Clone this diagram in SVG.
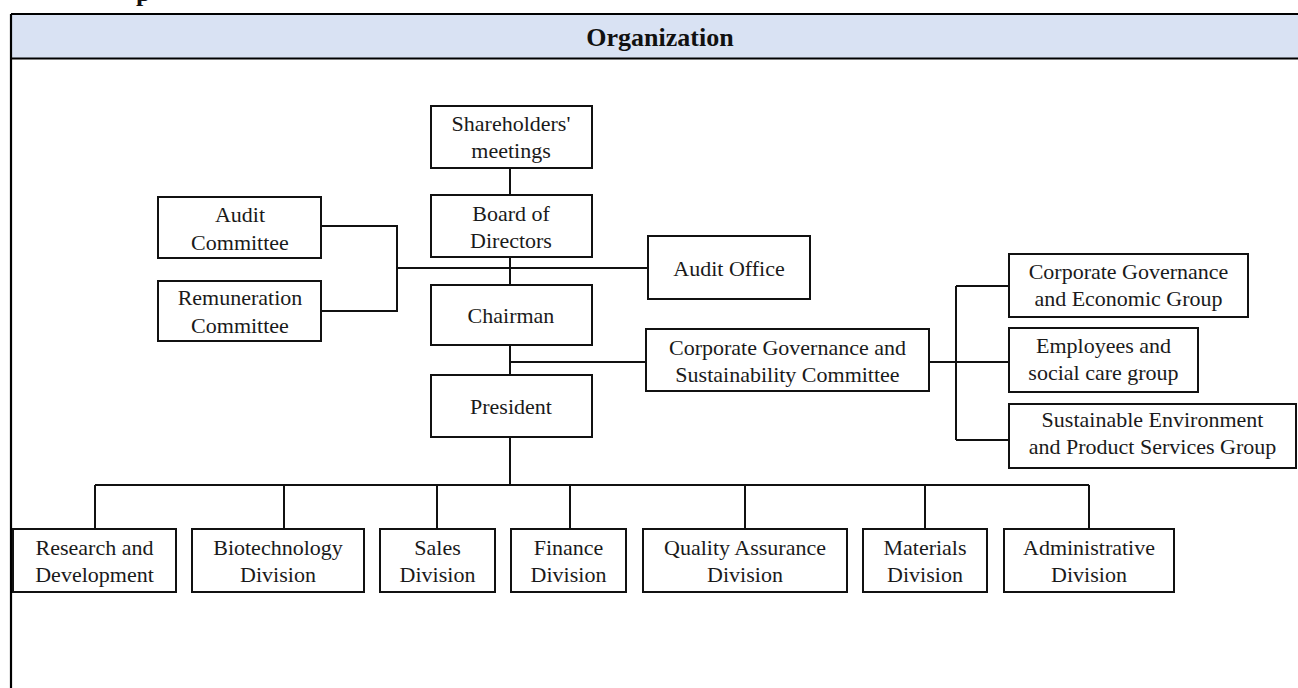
<svg xmlns="http://www.w3.org/2000/svg" width="1298" height="688" viewBox="0 0 1298 688">
  <style>
    .box { fill: #ffffff; stroke: #111111; stroke-width: 2; }
    .lbl { font-family: "Liberation Serif", "Times New Roman", serif; font-size: 22px; fill: #1a1a1a; text-anchor: middle; }
    .head { font-family: "Liberation Serif", "Times New Roman", serif; font-size: 26px; font-weight: bold; fill: #111111; text-anchor: middle; }
    .wire { fill: none; stroke: #111111; stroke-width: 2; }
    .frame { fill: none; stroke: #000000; stroke-width: 2.2; }
  </style>

  <rect width="1298" height="688" fill="#ffffff"/>

  <!-- clipped heading glyph above the table -->
  <text x="136" y="1" class="head" style="text-anchor:start">p</text>

  <!-- table frame and header row -->
  <g id="table">
    <rect x="11" y="14" width="1290" height="44.5" fill="#d9e2f3"/>
    <path class="frame" d="M11,14 H1298 M11,58.5 H1298 M11,14 V688"/>
    <text x="660" y="46" class="head">Organization</text>
  </g>

  <!-- connectors -->
  <g id="connectors" class="wire">
    <path d="M510,168 V195 M510,257 V285 M510,345 V375 M510,437 V485"/>
    <path d="M321,226 H397 V311 H321 M397,268 H648"/>
    <path d="M510,362 H646 M929,362 H956 M956,286 V440 M956,286 H1009 M956,362 H1009 M956,440 H1009"/>
    <path d="M95,485 H1089 M95,485 V529 M284,485 V529 M437,485 V529 M570,485 V529 M745,485 V529 M925,485 V529 M1089,485 V529"/>
  </g>

  <g id="shareholders">
    <rect class="box" x="431" y="106" width="161" height="62"/>
    <text class="lbl" x="511" y="131">Shareholders'</text>
    <text class="lbl" x="511" y="158">meetings</text>
  </g>
  <g id="board">
    <rect class="box" x="431" y="195" width="161" height="62"/>
    <text class="lbl" x="511" y="221">Board of</text>
    <text class="lbl" x="511" y="248">Directors</text>
  </g>
  <g id="chairman">
    <rect class="box" x="431" y="285" width="161" height="60"/>
    <text class="lbl" x="511" y="323">Chairman</text>
  </g>
  <g id="president">
    <rect class="box" x="431" y="375" width="161" height="62"/>
    <text class="lbl" x="511" y="414">President</text>
  </g>
  <g id="audit-committee">
    <rect class="box" x="158" y="197" width="163" height="61"/>
    <text class="lbl" x="240" y="222">Audit</text>
    <text class="lbl" x="240" y="250">Committee</text>
  </g>
  <g id="remuneration-committee">
    <rect class="box" x="158" y="281" width="163" height="60"/>
    <text class="lbl" x="240" y="305">Remuneration</text>
    <text class="lbl" x="240" y="333">Committee</text>
  </g>
  <g id="audit-office">
    <rect class="box" x="648" y="236" width="162" height="63"/>
    <text class="lbl" x="729" y="275.5">Audit Office</text>
  </g>
  <g id="cg-sustainability-committee">
    <rect class="box" x="646" y="329" width="283" height="62"/>
    <text class="lbl" x="787.5" y="355">Corporate Governance and</text>
    <text class="lbl" x="787.5" y="382">Sustainability Committee</text>
  </g>
  <g id="cg-economic-group">
    <rect class="box" x="1009" y="254" width="239" height="63"/>
    <text class="lbl" x="1128.5" y="279">Corporate Governance</text>
    <text class="lbl" x="1128.5" y="306">and Economic Group</text>
  </g>
  <g id="employees-group">
    <rect class="box" x="1009" y="328" width="189" height="64"/>
    <text class="lbl" x="1103.5" y="353">Employees and</text>
    <text class="lbl" x="1103.5" y="380">social care group</text>
  </g>
  <g id="environment-group">
    <rect class="box" x="1009" y="404" width="287" height="64"/>
    <text class="lbl" x="1152.5" y="427">Sustainable Environment</text>
    <text class="lbl" x="1152.5" y="453.5">and Product Services Group</text>
  </g>

  <g id="rnd">
    <rect class="box" x="13" y="529" width="163" height="63"/>
    <text class="lbl" x="94.5" y="555">Research and</text>
    <text class="lbl" x="94.5" y="582">Development</text>
  </g>
  <g id="biotech">
    <rect class="box" x="192" y="529" width="172" height="63"/>
    <text class="lbl" x="278" y="555">Biotechnology</text>
    <text class="lbl" x="278" y="582">Division</text>
  </g>
  <g id="sales">
    <rect class="box" x="380" y="529" width="115" height="63"/>
    <text class="lbl" x="437.5" y="555">Sales</text>
    <text class="lbl" x="437.5" y="582">Division</text>
  </g>
  <g id="finance">
    <rect class="box" x="511" y="529" width="115" height="63"/>
    <text class="lbl" x="568.5" y="555">Finance</text>
    <text class="lbl" x="568.5" y="582">Division</text>
  </g>
  <g id="quality">
    <rect class="box" x="643" y="529" width="204" height="63"/>
    <text class="lbl" x="745" y="555">Quality Assurance</text>
    <text class="lbl" x="745" y="582">Division</text>
  </g>
  <g id="materials">
    <rect class="box" x="863" y="529" width="124" height="63"/>
    <text class="lbl" x="925" y="555">Materials</text>
    <text class="lbl" x="925" y="582">Division</text>
  </g>
  <g id="administrative">
    <rect class="box" x="1004" y="529" width="170" height="63"/>
    <text class="lbl" x="1089" y="555">Administrative</text>
    <text class="lbl" x="1089" y="582">Division</text>
  </g>
</svg>
